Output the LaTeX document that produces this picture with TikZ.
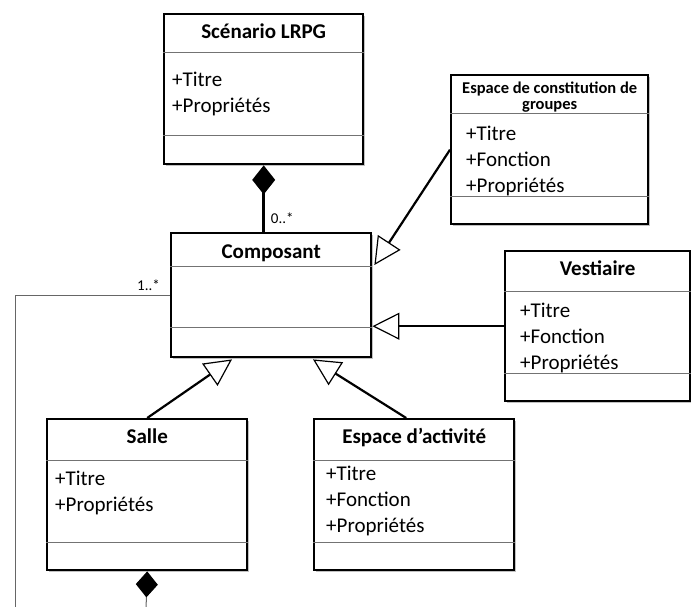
\documentclass[tikz,border=0pt]{standalone}
\usepackage{fontspec}
\setmainfont{Carlito}
\usetikzlibrary{arrows.meta,shadows,calc}
\begin{document}
\begin{tikzpicture}[x=1pt,y=-1pt,
  umlbox/.style={draw=black, line width=2.4pt, fill=white, anchor=north west, inner sep=0pt,
    drop shadow={shadow xshift=2pt, shadow yshift=-2pt, opacity=0.35, fill=black!70}},
  sepline/.style={draw=black!55, line width=1pt},
  titlef/.style={font=\fontsize{21}{24}\selectfont\bfseries, inner sep=0pt, anchor=base},
  attr/.style={font=\fontsize{21}{26}\selectfont, align=left, inner sep=0pt, anchor=north west},
  gen/.style={draw=black, line width=2.2pt, -{Triangle[length=27pt, width=27pt, fill=white, line width=1.2pt]}},
  comp/.style={draw=black, line width=2.5pt, {Diamond[length=29pt, width=23pt]}-},
  assoc/.style={draw=black!60, line width=1pt},
  mult/.style={font=\fontsize{15}{18}\selectfont, inner sep=0pt}
]
\useasboundingbox (0,0) rectangle (691,607);
\clip (0,0) rectangle (691,607);

% Scenario LRPG
\node[umlbox, minimum width=199pt, minimum height=150pt] (scen) at (163,13) {};
\draw[sepline] (scen.west |- 0,53) -- (scen.east |- 0,53);
\draw[sepline] (scen.west |- 0,136) -- (scen.east |- 0,136);
\node[titlef] (scent) at ($(scen.north)+(0,26)$) {Scénario LRPG};
\node[attr] (scena) at ($(scen.north west)+(9,58.5)$) {+Titre\\+Propriétés};

% Composant
\node[umlbox, minimum width=200pt, minimum height=124pt] (compo) at (170,232) {};
\draw[sepline] (compo.west |- 0,266) -- (compo.east |- 0,266);
\draw[sepline] (compo.west |- 0,327) -- (compo.east |- 0,327);
\node[titlef] (compot) at ($(compo.north)+(0,26)$) {Composant};

% Espace de constitution de groupes
\node[umlbox, minimum width=197pt, minimum height=149pt] (ecg) at (450,74) {};
\draw[sepline] (ecg.west |- 0,114) -- (ecg.east |- 0,114);
\draw[sepline] (ecg.west |- 0,196) -- (ecg.east |- 0,196);
\node[font=\fontsize{16.5}{15.5}\selectfont\bfseries, align=center, inner sep=0pt, anchor=north] (ecgt)
  at ($(ecg.north)+(0,8)$) {Espace de constitution de\\groupes};
\node[attr] (ecga) at ($(ecg.north west)+(16,51.5)$) {+Titre\\+Fonction\\+Propriétés};

% Vestiaire
\node[umlbox, minimum width=185pt, minimum height=150pt] (vest) at (504,250) {};
\draw[sepline] (vest.west |- 0,291) -- (vest.east |- 0,291);
\draw[sepline] (vest.west |- 0,373) -- (vest.east |- 0,373);
\node[titlef] (vestt) at ($(vest.north)+(0,25)$) {Vestiaire};
\node[attr] (vesta) at ($(vest.north west)+(16,52.5)$) {+Titre\\+Fonction\\+Propriétés};

% Salle
\node[umlbox, minimum width=200pt, minimum height=151pt] (salle) at (46,418) {};
\draw[sepline] (salle.west |- 0,460) -- (salle.east |- 0,460);
\draw[sepline] (salle.west |- 0,542) -- (salle.east |- 0,542);
\node[titlef] (sallet) at ($(salle.north)+(0,25)$) {Salle};
\node[attr] (sallea) at ($(salle.north west)+(9,52.5)$) {+Titre\\+Propriétés};

% Espace d'activite
\node[umlbox, minimum width=200pt, minimum height=151pt] (ea) at (313,418) {};
\draw[sepline] (ea.west |- 0,460) -- (ea.east |- 0,460);
\draw[sepline] (ea.west |- 0,542) -- (ea.east |- 0,542);
\node[titlef] (eat) at ($(ea.north)+(0,25)$) {Espace d’activité};
\node[attr] (eaa) at ($(ea.north west)+(13,47.5)$) {+Titre\\+Fonction\\+Propriétés};

% connectors
\draw[comp] (scen.south) -- (scen.south |- compo.north);
\node[mult, anchor=base west] (m0) at ($(scen.south |- compo.north)+(7,-9)$) {0..*};

\coordinate (a1) at (15,610);
\draw[assoc] (compo.west) -| (a1);
\node[mult, anchor=base east] (m1) at ($(compo.west)+(-10,-5)$) {1..*};

\coordinate (a2) at (146,610);
\draw[assoc, {Diamond[length=26pt, width=22pt, color=black]}-] (salle.south) -- (a2);

\draw[gen] (ecg.west) -- ($(compo.north east)+(2,33)$);
\draw[gen] (vest.west) -- (vest.west -| compo.east);
\draw[gen] (salle.north) -- ($(compo.south west)+(62,1)$);
\draw[gen] ($(ea.north)+(-8,0)$) -- ($(compo.south west)+(143,1)$);
\end{tikzpicture}
\end{document}
